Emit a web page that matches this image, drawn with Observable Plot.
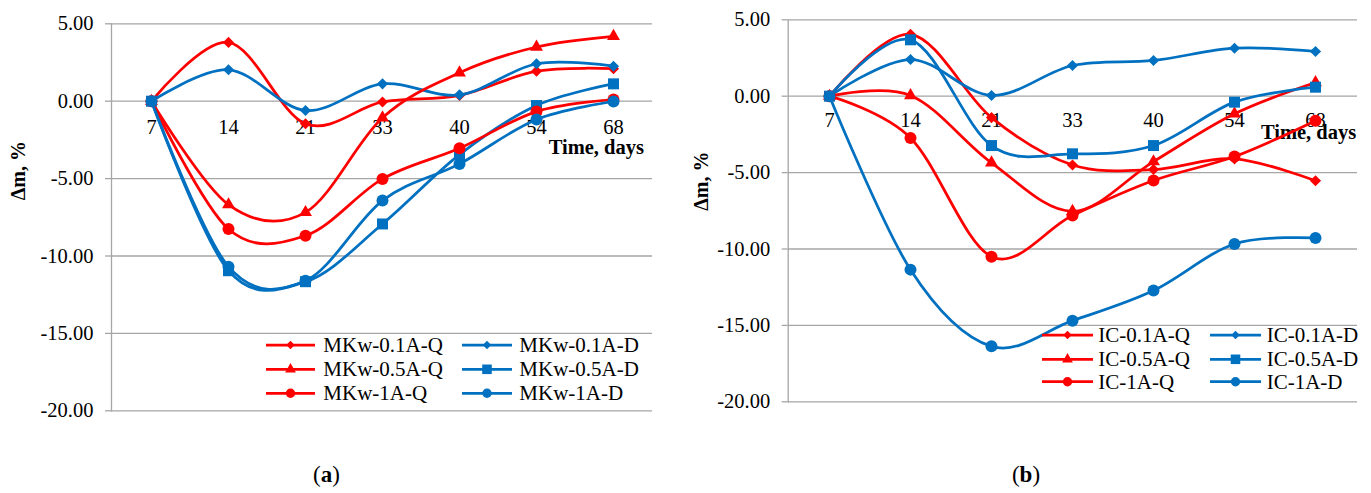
<!DOCTYPE html>
<html><head><meta charset="utf-8">
<script src="https://cdn.jsdelivr.net/npm/d3@7"></script>
<script src="https://cdn.jsdelivr.net/npm/@observablehq/plot@0.6"></script>
<style>
body{margin:0;background:#fff;}
#wrap{position:relative;width:1371px;height:493px;overflow:hidden;font-family:"Liberation Serif","Times New Roman",serif;color:#000;}
.panel{position:absolute;top:0;}
.panel text{font-family:"Liberation Serif","Times New Roman",serif;}
.cap{position:absolute;top:462px;font-size:23px;transform:translateX(-50%);white-space:nowrap;}
#overlay{position:absolute;left:0;top:0;pointer-events:none;}
</style></head><body><div id="wrap"></div>
<script>
// categories
const days = ["7","14","21","33","40","54","68"];
const yTicks = [5, 0, -5, -10, -15, -20];

// panel (a)
const namesA = ["MKw-0.1A-Q","MKw-0.1A-D","MKw-0.5A-Q","MKw-0.5A-D","MKw-1A-Q","MKw-1A-D"];
const mkw01Q = [0, 3.80, -1.46, -0.05, 0.37, 1.94, 2.10];
const mkw01D = [0, 2.03, -0.60, 1.12, 0.41, 2.42, 2.26];
const mkw05Q = [0, -6.68, -7.18, -1.07, 1.84, 3.50, 4.19];
const mkw05D = [0, -10.95, -11.66, -7.93, -3.45, -0.28, 1.12];
const mkw1Q  = [0, -8.26, -8.69, -5.02, -3.04, -0.67, 0.11];
const mkw1D  = [0, -10.69, -11.60, -6.42, -4.05, -1.18, -0.02];

// panel (b)
const namesB = ["IC-0.1A-Q","IC-0.1A-D","IC-0.5A-Q","IC-0.5A-D","IC-1A-Q","IC-1A-D"];
const ic01Q = [0, 4.05, -1.40, -4.50, -4.80, -4.10, -5.53];
const ic01D = [0, 2.40, 0.05, 2.01, 2.34, 3.14, 2.93];
const ic05Q = [0, 0.05, -4.36, -7.53, -4.28, -1.15, 0.90];
const ic05D = [0, 3.69, -3.23, -3.77, -3.23, -0.39, 0.59];
const ic1Q  = [0, -2.73, -10.50, -7.81, -5.52, -3.95, -1.60];
const ic1D  = [0, -11.35, -16.37, -14.69, -12.72, -9.67, -9.28];

const RED = "#ff0000", BLUE = "#0070c0";
const styles = [
  {color: RED,  symbol: "diamond2", r: 5,   lr: 3.8, ls: d3.symbolDiamond2},
  {color: BLUE, symbol: "diamond2", r: 5,   lr: 3.8, ls: d3.symbolDiamond2},
  {color: RED,  symbol: "triangle", r: 4.8, lr: 4.0, ls: d3.symbolTriangle},
  {color: BLUE, symbol: "square",   r: 6.2, lr: 5.4, ls: d3.symbolSquare},
  {color: RED,  symbol: "circle",   r: 6,   lr: 4.7, ls: d3.symbolCircle},
  {color: BLUE, symbol: "circle",   r: 6,   lr: 4.7, ls: d3.symbolCircle}
];
const FONT = "'Liberation Serif', 'Times New Roman', serif";

function toRows(names, arrays) {
  return names.map((name, i) => arrays[i].map((v, j) => ({series: name, day: days[j], value: v})));
}

function panel(cfg) {
  const rows = toRows(cfg.names, cfg.arrays);
  const marks = [
    Plot.gridY(yTicks, {stroke: "#a6a6a6", strokeOpacity: 1, strokeWidth: 1.3}),
    Plot.axisY(yTicks, {tickFormat: d => d.toFixed(2), tickSize: 6, tickPadding: 12, stroke: "#a6a6a6", strokeWidth: 1.3, fill: "#000", label: null, fontSize: 20.5}),
    Plot.frame({anchor: "left", stroke: "#a6a6a6", strokeWidth: 1.3}),
    Plot.text(days, {x: d => d, y: () => 0, dy: cfg.labelDy, fontSize: 20.5, fill: "#000"}),
    Plot.text(["Time, days"], {x: () => days[days.length - 1], y: () => 0, dx: cfg.timeDx, dy: cfg.timeDy, textAnchor: "end", fontWeight: "bold", fontSize: 20.5, fill: "#000"}),
    Plot.text(["Δm, %"], {frameAnchor: "left", rotate: -90, dx: cfg.titleDx, dy: cfg.titleDy, fontWeight: "bold", fontSize: 20, fill: "#000"})
  ];
  rows.forEach((r, i) => {
    const s = styles[i];
    marks.push(Plot.line(r, {x: "day", y: "value", stroke: s.color, strokeWidth: 2.75, curve: "cardinal", tension: 0}));
    marks.push(Plot.dot(r, {x: "day", y: "value", symbol: s.symbol, fill: s.color, stroke: "none", r: s.r}));
  });
  const chart = Plot.plot({
    width: cfg.width, height: cfg.height,
    marginLeft: cfg.mL, marginRight: cfg.mR, marginTop: cfg.mT, marginBottom: cfg.mB,
    x: {type: "point", domain: days, padding: 0.5, axis: null},
    y: {domain: [-20, 5], axis: null},
    style: {fontFamily: FONT, fontSize: "20.5px", background: "transparent", overflow: "visible"},
    marks
  });
  chart.classList.add("panel");
  chart.style.left = cfg.left + "px";
  return chart;
}

const wrap = document.getElementById("wrap");
wrap.appendChild(panel({
  names: namesA, arrays: [mkw01Q, mkw01D, mkw05Q, mkw05D, mkw1Q, mkw1D],
  left: 0, width: 680, height: 440, mL: 111, mR: 28, mT: 23.3, mB: 29.7,
  labelDy: 26.3, timeDx: 30.5, timeDy: 45.8, titleDx: -92.5, titleDy: -17
}));
wrap.appendChild(panel({
  names: namesB, arrays: [ic01Q, ic01D, ic05Q, ic05D, ic1Q, ic1D],
  left: 680, width: 691, height: 440, mL: 107.7, mR: 14, mT: 19.3, mB: 38.7,
  labelDy: 24.3, timeDx: 40.7, timeDy: 35.8, titleDx: -86.7, titleDy: 0
}));

// legends (overlay)
const ov = d3.select(wrap).append("svg").attr("id", "overlay").attr("width", 1371).attr("height", 493)
  .style("font-family", FONT).style("font-size", "21px");
function legend(names, rowsY, cols) {
  names.forEach((name, i) => {
    const col = cols[i % 2], y = rowsY[Math.floor(i / 2)], s = styles[i];
    ov.append("line").attr("x1", col.x1).attr("x2", col.x2).attr("y1", y).attr("y2", y)
      .attr("stroke", s.color).attr("stroke-width", 2.75);
    ov.append("path").attr("d", d3.symbol().type(s.ls).size(Math.PI * s.lr * s.lr)())
      .attr("transform", `translate(${(col.x1 + col.x2) / 2},${y})`).attr("fill", s.color);
    ov.append("text").attr("x", col.tx).attr("y", y).attr("dy", "0.34em").text(name);
  });
}
legend(namesA, [345, 369.3, 393.3], [{x1: 266, x2: 315, tx: 323.3}, {x1: 462, x2: 512, tx: 519.3}]);
legend(namesB, [335, 359.3, 381.7], [{x1: 1042, x2: 1093, tx: 1098.3}, {x1: 1210, x2: 1261, tx: 1266.7}]);

// captions
[["a", 326.5], ["b", 1026]].forEach(([l, x]) => {
  const d = document.createElement("div");
  d.className = "cap";
  d.style.left = x + "px";
  d.innerHTML = `(<b>${l}</b>)`;
  wrap.appendChild(d);
});
</script></body></html>
